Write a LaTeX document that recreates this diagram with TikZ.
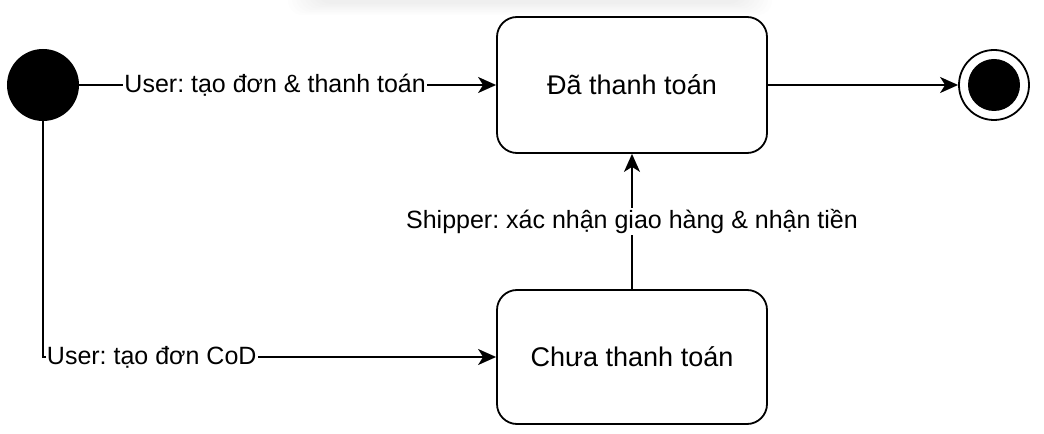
\documentclass[tikz,border=0pt]{standalone}
\usepackage{fontspec}
\setmainfont{Liberation Sans}
\usetikzlibrary{arrows.meta}
\begin{document}
\frenchspacing
\begin{tikzpicture}[x=1bp,y=-1bp,
  every node/.style={font=\fontsize{25bp}{30bp}\selectfont},
  statebox/.style={draw, line width=1.8bp, rounded corners=20bp, minimum width=270bp, inner sep=0pt, font=\fontsize{27bp}{32bp}\selectfont},
  conn/.style={line width=1.8bp, -{Stealth[length=18bp,width=16bp,inset=5bp]}},
  lbl/.style={fill=white, inner sep=1bp}
]
\useasboundingbox (0,0) rectangle (1044,434);
% faint shadow at the top
\foreach \i in {0,...,7}{
  \fill[black, opacity=0.009, rounded corners=14bp] (288+4*\i,-30) rectangle (772-4*\i,15-1.6*\i);
}
\node[circle, fill=black, minimum size=72bp, inner sep=0pt] (init) at (43,85) {};
\node[statebox, minimum height=136bp] (paid) at (632,85) {Đã thanh toán};
\node[statebox, minimum height=134bp] (unpaid) at (632,357) {Chưa thanh toán};
\node[circle, draw, line width=1.8bp, minimum size=70bp, inner sep=0pt] (fin) at (994,85) {};
\fill (fin.center) circle (26);

\draw[conn] (init) -- node[lbl, pos=0.47] {User: tạo đơn \& thanh toán} (paid);
\draw[conn] (init.south) |- node[lbl, pos=0.62] {User: tạo đơn CoD} (unpaid.west);
\draw[conn] (unpaid.north) -- node[lbl] {Shipper: xác nhận giao hàng \& nhận tiền} (paid.south);
\draw[conn] (paid.east) -- (fin.west);
\end{tikzpicture}
\end{document}
